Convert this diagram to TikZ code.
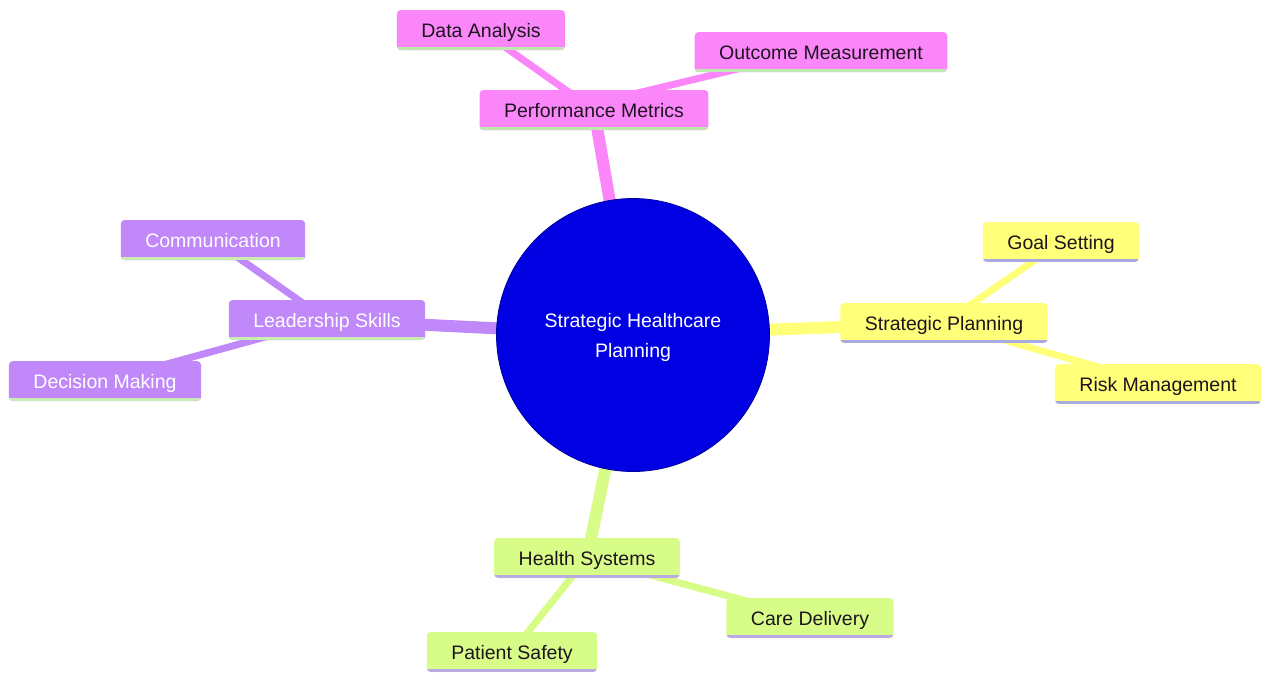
\documentclass[tikz,border=0pt]{standalone}
\usepackage{fontspec}
\setmainfont{Liberation Sans}
\usetikzlibrary{backgrounds}
\definecolor{rootblue}{RGB}{0,0,226}
\definecolor{pinkfill}{RGB}{250,134,250}
\definecolor{purplefill}{RGB}{192,136,248}
\definecolor{yellowfill}{RGB}{255,255,122}
\definecolor{greenfill}{RGB}{216,252,136}
\definecolor{pinkline}{RGB}{190,232,172}
\definecolor{purpleline}{RGB}{200,236,178}
\definecolor{yellowline}{RGB}{170,170,226}
\definecolor{greenline}{RGB}{186,170,228}
\definecolor{darktext}{RGB}{30,20,30}
\begin{document}
\begin{tikzpicture}[x=1pt,y=-1pt,
  font=\fontsize{19.5}{30}\selectfont,
  mmbox/.style 2 args={rounded corners=4pt, fill=#1, minimum height=40pt, inner xsep=24.5pt, inner ysep=0pt,
    text height=16pt, text depth=2pt,
    path picture={\draw[line width=3pt,#2] ([yshift=1.5pt]path picture bounding box.south west) -- ([yshift=1.5pt]path picture bounding box.south east);}},
  pinkbox/.style={mmbox={pinkfill}{pinkline}, text=darktext},
  purplebox/.style={mmbox={purplefill}{purpleline}, text=white},
  yellowbox/.style={mmbox={yellowfill}{yellowline}, text=darktext},
  greenbox/.style={mmbox={greenfill}{greenline}, text=darktext},
  mainedge/.style={line width=12pt, #1},
  subedge/.style={line width=7pt, #1}]
\useasboundingbox (0,0) rectangle (1263,675);

\node[circle, fill=rootblue, draw=rootblue!70!black, line width=0.8pt, minimum size=273pt,
  label={[text=white, align=center, yshift=-2pt]center:{Strategic Healthcare\\Planning}}] (root) at (633,335) {};

\node[pinkbox] (pm) at (594,110) {Performance Metrics};
\node[pinkbox] (da) at (481,30) {Data Analysis};
\node[pinkbox] (om) at (821,52) {Outcome Measurement};

\node[purplebox] (ls) at (327,320) {Leadership Skills};
\node[purplebox] (cm) at (213,240) {Communication};
\node[purplebox] (dm) at (105,381) {Decision Making};

\node[yellowbox] (sp) at (944,323) {Strategic Planning};
\node[yellowbox] (gs) at (1061,242) {Goal Setting};
\node[yellowbox] (rm) at (1158,384) {Risk Management};

\node[greenbox] (hs) at (587,558) {Health Systems};
\node[greenbox] (cd) at (810,618) {Care Delivery};
\node[greenbox] (ps) at (512,652) {Patient Safety};

\begin{pgfonlayer}{background}
\fill[white] (0,0) rectangle (1263,675);
\draw[mainedge=pinkfill] (root.center) -- (pm.center);
\draw[mainedge=purplefill] (root.center) -- (ls.center);
\draw[mainedge=yellowfill] (root.center) -- (sp.center);
\draw[mainedge=greenfill] (root.center) -- (hs.center);
\draw[subedge=pinkfill] (pm.center) -- (da.center);
\draw[subedge=pinkfill] ([xshift=-27pt]pm.center) -- ([xshift=-13pt]om.center);
\draw[subedge=purplefill] (ls.center) -- (cm.center);
\draw[subedge=purplefill] (ls.center) -- (dm.center);
\draw[subedge=yellowfill] (sp.center) -- (gs.center);
\draw[subedge=yellowfill] (sp.center) -- (rm.center);
\draw[subedge=greenfill] (hs.center) -- (cd.center);
\draw[subedge=greenfill] (hs.center) -- (ps.center);
\end{pgfonlayer}
\end{tikzpicture}
\end{document}
